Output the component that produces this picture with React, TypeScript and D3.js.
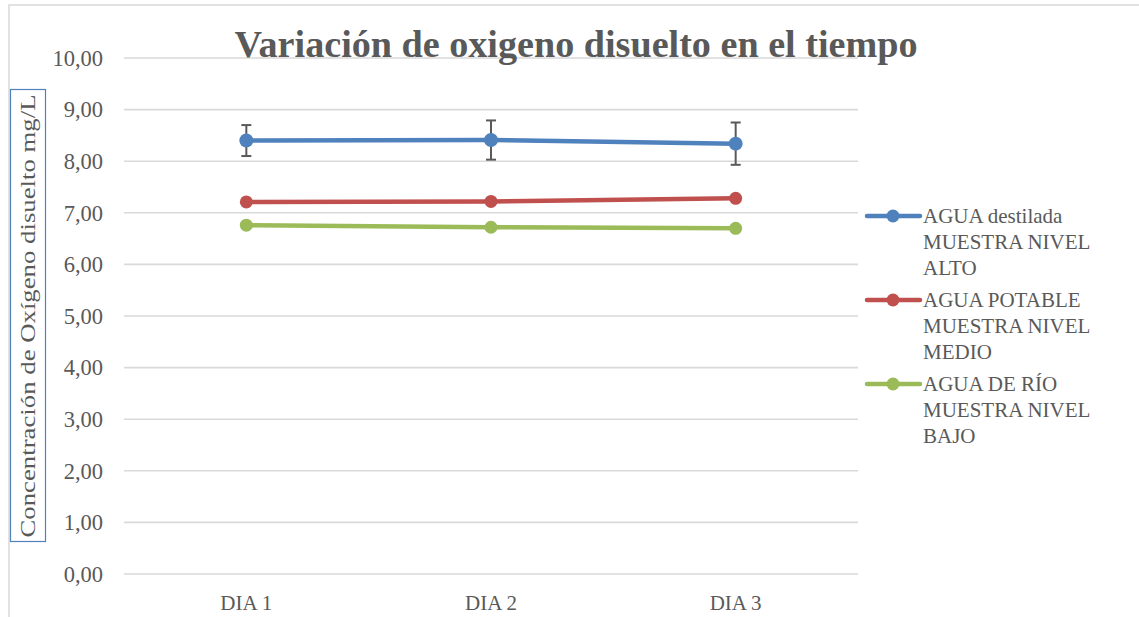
import React from 'react';
import * as d3 from 'd3';

const days = ['DIA 1', 'DIA 2', 'DIA 3'];
const yTicks = [0, 1, 2, 3, 4, 5, 6, 7, 8, 9, 10];

const destiladaValues = [8.4, 8.41, 8.34];
const destiladaErrors = [0.3, 0.38, 0.41];
const potableValues = [7.21, 7.22, 7.28];
const rioValues = [6.76, 6.72, 6.7];

const seriesNames = [
  ['AGUA destilada', 'MUESTRA NIVEL', 'ALTO'],
  ['AGUA POTABLE', 'MUESTRA NIVEL', 'MEDIO'],
  ['AGUA DE RÍO', 'MUESTRA NIVEL', 'BAJO'],
];
const colors = ['#4f81bd', '#c0504d', '#9bbb59'];

const W = 1139;
const H = 617;
const font = '"Liberation Serif", "DejaVu Serif", serif';

export default function App() {
  const x = d3.scaleBand<string>().domain(days).range([124, 858]);
  const y = d3.scaleLinear().domain([0, 10]).range([574, 58]);
  const cx = (d: string) => (x(d) ?? 0) + x.bandwidth() / 2;

  const line = d3
    .line<number>()
    .x((_, i) => cx(days[i]))
    .y((v) => y(v));

  const series = [
    { values: destiladaValues, errors: destiladaErrors, r: 7 },
    { values: potableValues, errors: null, r: 6.5 },
    { values: rioValues, errors: null, r: 6.5 },
  ];

  return (
    <svg
      width={W}
      height={H}
      style={{ position: 'absolute', left: 0, top: 0, background: '#fff' }}
      fontFamily={font}
    >
      <rect x={9} y={5} width={W} height={H} fill="#fff" stroke="#d9d9d9" strokeWidth={1.5} />

      {/* gridlines */}
      {yTicks.map((t) => (
        <g key={t}>
          <line x1={124} x2={858} y1={y(t)} y2={y(t)} stroke="#d9d9d9" strokeWidth={1.6} />
          <text x={103} y={y(t)} dy="0.35em" textAnchor="end" fontSize={22.5} fill="#595959">
            {d3.format('.2f')(t).replace('.', ',')}
          </text>
        </g>
      ))}

      {/* x labels */}
      {days.map((d) => (
        <text key={d} x={cx(d)} y={610} textAnchor="middle" fontSize={21} fill="#595959">
          {d}
        </text>
      ))}

      {/* title */}
      <text x={576} y={57} textAnchor="middle" fontSize={38} fontWeight="bold" fill="#595959" textLength={683} lengthAdjust="spacingAndGlyphs">
        Variación de oxigeno disuelto en el tiempo
      </text>

      {/* y axis title */}
      <rect x={10.5} y={89.5} width={35} height={452} fill="#fff" stroke="#4f81bd" strokeWidth={1.2} />
      <text
        transform={`translate(35, 316) rotate(-90)`}
        textAnchor="middle"
        fontSize={21}
        fill="#595959"
        textLength={443}
        lengthAdjust="spacingAndGlyphs"
      >
        Concentración de Oxígeno disuelto mg/L
      </text>

      {/* series */}
      {series.map((s, si) => (
        <g key={si}>
          <path d={line(s.values) ?? ''} fill="none" stroke={colors[si]} strokeWidth={4.5} strokeLinejoin="round" />
          {s.errors &&
            s.values.map((v, i) => (
              <g key={i} stroke="#595959" strokeWidth={2}>
                <line x1={cx(days[i])} x2={cx(days[i])} y1={y(v + s.errors![i])} y2={y(v - s.errors![i])} />
                <line x1={cx(days[i]) - 5} x2={cx(days[i]) + 5} y1={y(v + s.errors![i])} y2={y(v + s.errors![i])} />
                <line x1={cx(days[i]) - 5} x2={cx(days[i]) + 5} y1={y(v - s.errors![i])} y2={y(v - s.errors![i])} />
              </g>
            ))}
          {s.values.map((v, i) => (
            <circle key={i} cx={cx(days[i])} cy={y(v)} r={s.r} fill={colors[si]} />
          ))}
        </g>
      ))}

      {/* legend */}
      {seriesNames.map((lines, si) => {
        const top = 216 + si * 84;
        return (
          <g key={si}>
            <line x1={867} x2={920} y1={top} y2={top} stroke={colors[si]} strokeWidth={4.5} strokeLinecap="round" />
            <circle cx={893} cy={top} r={6.5} fill={colors[si]} />
            {lines.map((t, li) => (
              <text key={li} x={923} y={top + 7 + li * 26} fontSize={21} fill="#595959">
                {t}
              </text>
            ))}
          </g>
        );
      })}
    </svg>
  );
}
